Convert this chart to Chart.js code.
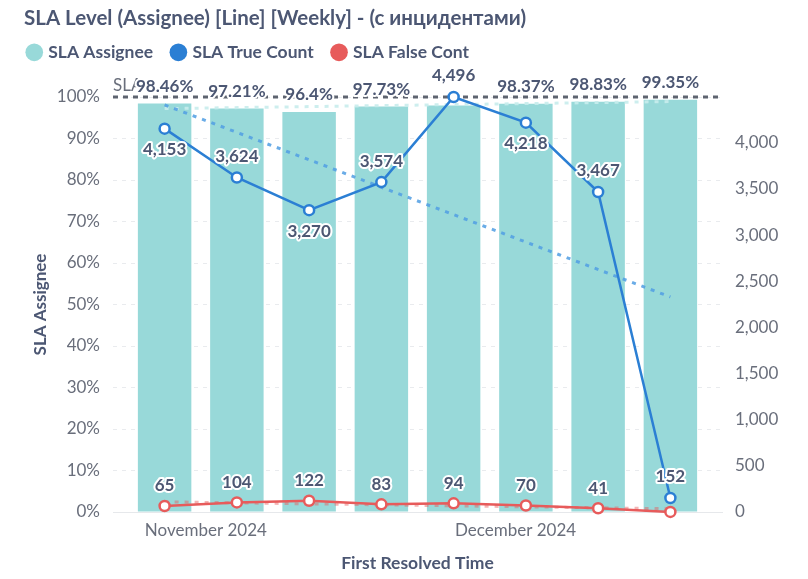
<!DOCTYPE html>
<html>
<head>
<meta charset="utf-8">
<script src="https://cdn.jsdelivr.net/npm/chart.js@4.4.1/dist/chart.umd.min.js"></script>
<style>
  html, body { margin: 0; padding: 0; background: #fff; }
  #wrap { width: 808px; height: 579px; }
</style>
</head>
<body>
<div id="wrap"><canvas id="chart"></canvas></div>
<script>
// weekly buckets (week start)
const weeks = ['2024-10-28', '2024-11-04', '2024-11-11', '2024-11-18',
               '2024-11-25', '2024-12-02', '2024-12-09', '2024-12-16'];
const slaAssignee = [98.46, 97.21, 96.4, 97.73, 97.95, 98.37, 98.83, 99.35];
const slaTrueCount = [4153, 3624, 3270, 3574, 4496, 4218, 3467, 152];
const slaFalseCount = [65, 104, 122, 83, 94, 70, 41, 1];
const slaGoal = 100;

// trend lines, first week -> last week
const slaAssigneeTrend = [97.2, 98.9];
const trueCountTrend = [4410, 2330];
const falseCountTrend = [110, 35];

const monthTicks = ['2024-11-01', '2024-12-01'];
const monthLabels = ['November 2024', 'December 2024'];
const percentTicks = [0, 10, 20, 30, 40, 50, 60, 70, 80, 90, 100];
const countTicks = [0, 500, 1000, 1500, 2000, 2500, 3000, 3500, 4000];

const DAY = 86400000;
const dayOf = d => (Date.parse(d) - Date.parse(weeks[0])) / DAY;
const weekDays = weeks.map(dayOf);
const monthDays = monthTicks.map(dayOf);
const ends = [weekDays[0], weekDays[weekDays.length - 1]];

const dark = '#4C5773';
const medium = '#696E7B';
const teal = '#98D9D9';
const blue = '#2B7FD4';
const red = '#E75B5B';

Chart.defaults.font.family = 'Lato, "Noto Sans", sans-serif';

// legend box: fixed height so the plot starts lower, and nudged left
const legendBox = {
  id: 'legendBox',
  beforeInit(chart) {
    const fit = chart.legend.fit;
    chart.legend.fit = function () {
      fit.bind(chart.legend)();
      this.height = 73.4;
    };
  },
  afterLayout(chart) {
    chart.legend.left -= 15;
    chart.legend.right -= 15;
  }
};

const goalLine = {
  id: 'goalLine',
  beforeDatasetsDraw(chart) {
    const { ctx, chartArea } = chart;
    const y = chart.scales.y.getPixelForValue(slaGoal);
    ctx.save();
    ctx.setLineDash([5, 5]);
    ctx.lineWidth = 3;
    ctx.strokeStyle = '#5E6470';
    ctx.beginPath();
    ctx.moveTo(chartArea.left, y);
    ctx.lineTo(chartArea.right, y);
    ctx.stroke();
    ctx.font = '17px Lato';
    ctx.fillStyle = medium;
    ctx.textAlign = 'left';
    ctx.textBaseline = 'bottom';
    ctx.fillText('SLA', chartArea.left, y - 3);
    ctx.restore();
  }
};

const valueLabels = {
  id: 'valueLabels',
  afterDatasetsDraw(chart) {
    const ctx = chart.ctx;
    ctx.save();
    ctx.textAlign = 'center';
    ctx.textBaseline = 'middle';
    ctx.lineJoin = 'round';
    chart.data.datasets.forEach((ds, di) => {
      const lab = ds.valueLabel;
      if (!lab) return;
      const meta = chart.getDatasetMeta(di);
      meta.data.forEach((el, i) => {
        if (lab.hide.includes(i)) return;
        const text = lab.format(ds.data[i].y);
        const side = lab.side ? lab.side[i] : -1;
        const y = el.y + side * lab.offset;
        ctx.font = 'bold ' + lab.size + 'px Lato';
        ctx.strokeStyle = '#fff';
        ctx.lineWidth = 4;
        ctx.strokeText(text, el.x, y);
        ctx.fillStyle = dark;
        ctx.fillText(text, el.x, y);
      });
    });
    ctx.restore();
  }
};

const pts = arr => arr.map((v, i) => ({ x: weekDays[i], y: v }));
const trend = arr => arr.map((v, i) => ({ x: ends[i], y: v }));

new Chart(document.getElementById('chart'), {
  type: 'bar',
  data: {
    datasets: [
      {
        type: 'line', label: 'SLA True Count', data: pts(slaTrueCount), yAxisID: 'y1',
        borderColor: blue, borderWidth: 2.5, backgroundColor: '#fff',
        pointRadius: 5, pointBorderWidth: 2.5, pointBackgroundColor: '#fff', pointBorderColor: blue,
        order: 1, clip: false, legendColor: blue,
        valueLabel: { format: v => v.toLocaleString('en-US'), size: 17, offset: 21,
                      side: [1, -1, 1, -1, -1, 1, -1, -1], hide: [] }
      },
      {
        type: 'line', label: 'SLA False Cont', data: pts(slaFalseCount), yAxisID: 'y1',
        borderColor: red, borderWidth: 2.5, backgroundColor: '#fff',
        pointRadius: 5, pointBorderWidth: 2.5, pointBackgroundColor: '#fff', pointBorderColor: red,
        order: 1, clip: false, legendColor: red,
        valueLabel: { format: v => v.toLocaleString('en-US'), size: 17, offset: 20, hide: [7] }
      },
      {
        type: 'line', label: 'trend true', data: trend(trueCountTrend), yAxisID: 'y1',
        borderColor: 'rgba(80,158,227,0.85)', borderWidth: 3, borderDash: [4, 6],
        pointRadius: 0, order: 3, clip: false
      },
      {
        type: 'line', label: 'trend false', data: trend(falseCountTrend), yAxisID: 'y1',
        borderColor: 'rgba(231,91,91,0.45)', borderWidth: 3, borderDash: [4, 6],
        pointRadius: 0, order: 3, clip: false
      },
      {
        type: 'line', label: 'trend sla', data: trend(slaAssigneeTrend), yAxisID: 'y',
        borderColor: 'rgba(200,236,236,0.9)', borderWidth: 3, borderDash: [4, 6],
        pointRadius: 0, order: 3, clip: false
      },
      {
        type: 'bar', label: 'SLA Assignee', data: pts(slaAssignee), yAxisID: 'y',
        backgroundColor: teal, barPercentage: 0.74, categoryPercentage: 1,
        order: 10, legendColor: teal,
        valueLabel: { format: v => v + '%', size: 17, offset: 17, hide: [4] }
      }
    ]
  },
  options: {
    responsive: true,
    maintainAspectRatio: false,
    animation: false,
    layout: { padding: { left: 24, right: 28, top: 0, bottom: 5 } },
    plugins: {
      title: {
        display: true, align: 'start', color: dark,
        text: 'SLA Level (Assignee) [Line] [Weekly] - (с инцидентами)',
        font: { size: 20.5, weight: 'bold', lineHeight: 1.2 }, padding: { top: 6, bottom: -7 }
      },
      legend: {
        display: true, align: 'start',
        labels: {
          usePointStyle: true, boxWidth: 10.5, boxHeight: 12.5, padding: 20,
          color: dark, font: { size: 17.5, weight: 'bold' },
          generateLabels(chart) {
            const order = ['SLA Assignee', 'SLA True Count', 'SLA False Cont'];
            return order.map(name => {
              const i = chart.data.datasets.findIndex(d => d.label === name);
              const ds = chart.data.datasets[i];
              return { text: ds.label, fillStyle: ds.legendColor, strokeStyle: ds.legendColor,
                       lineWidth: 0, pointStyle: 'circle', hidden: false, datasetIndex: i, fontColor: dark };
            });
          }
        }
      },
      tooltip: { enabled: false }
    },
    scales: {
      x: {
        type: 'linear', offset: false,
        min: weekDays[0] - 5, max: weekDays[weekDays.length - 1] + 5,
        afterBuildTicks: scale => { scale.ticks = monthDays.map(v => ({ value: v })); },
        afterFit: scale => { scale.height = 62; },
        grid: { display: false, drawTicks: false },
        border: { display: true, color: '#E6E8EB', width: 1 },
        ticks: {
          autoSkip: false, maxRotation: 0, padding: 8, color: medium, font: { size: 17 },
          callback: v => monthLabels[monthDays.indexOf(v)]
        },
        title: { display: true, text: 'First Resolved Time', color: dark,
                 font: { size: 17.5, weight: 'bold' }, padding: { top: 12, bottom: 0 } }
      },
      y: {
        position: 'left', min: 0, max: 100,
        afterBuildTicks: scale => { scale.ticks = percentTicks.map(v => ({ value: v })); },
        afterFit: scale => { scale.width = 89; },
        grid: { color: '#E9EBEE', lineWidth: 1, drawTicks: false },
        border: { display: false, dash: [4, 5] },
        ticks: { padding: 13, color: medium, font: { size: 17 }, callback: v => v + '%' },
        title: { display: true, text: 'SLA Assignee', color: dark,
                 font: { size: 17, weight: 'bold' }, padding: { top: 6, bottom: 7 } }
      },
      y1: {
        position: 'right', min: 0, max: Math.max(...slaTrueCount),
        afterBuildTicks: scale => { scale.ticks = countTicks.map(v => ({ value: v })); },
        afterFit: scale => { scale.width = 58; },
        grid: { display: false, drawTicks: false },
        border: { display: false },
        ticks: { padding: 13, color: medium, font: { size: 17 },
                 callback: v => v.toLocaleString('en-US') }
      }
    }
  },
  plugins: [legendBox, goalLine, valueLabels]
});
</script>
</body>
</html>
